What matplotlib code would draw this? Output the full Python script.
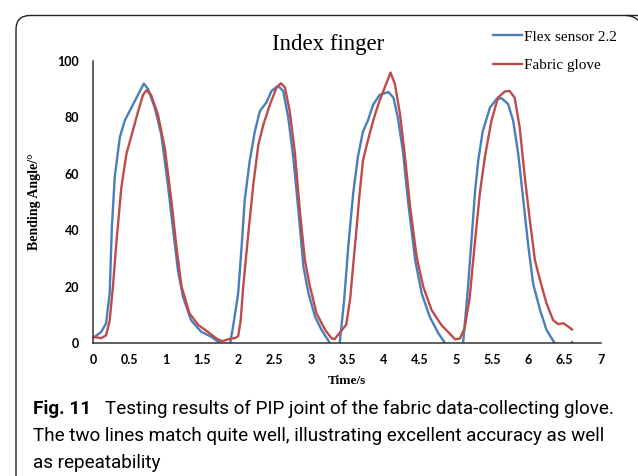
import matplotlib
matplotlib.use("Agg")
import matplotlib.pyplot as plt
from matplotlib import font_manager
from matplotlib.patches import FancyBboxPatch, Arc
from matplotlib.ticker import MultipleLocator, FormatStrFormatter

# flex sensor 2.2 (blue)
flex_time = [0, 0.115, 0.18, 0.23, 0.26, 0.30, 0.37, 0.44, 0.53, 0.62, 0.70, 0.76,
             0.85, 0.94, 1.03, 1.10, 1.17, 1.24, 1.35, 1.49, 1.63, 1.745, 1.82, 1.89,
             1.93, 2.0, 2.05, 2.09, 2.16, 2.23, 2.30, 2.39, 2.46, 2.55, 2.62, 2.69,
             2.76, 2.83, 2.90, 2.97, 3.06, 3.15, 3.24, 3.32, 3.40, 3.46, 3.52, 3.585,
             3.65, 3.72, 3.79, 3.86, 3.95, 4.07, 4.14, 4.20, 4.27, 4.34, 4.44, 4.53,
             4.64, 4.76, 4.85, 4.97, 5.10, 5.16, 5.22, 5.265, 5.31, 5.37, 5.47, 5.56,
             5.63, 5.72, 5.79, 5.86, 5.93, 6.00, 6.065, 6.16, 6.25, 6.36, 6.47, 6.60]
flex_angle = [1.7, 4, 7, 17.6, 41, 59, 73, 79, 83.5, 88, 92, 90,
              83.5, 74, 56.5, 41, 25.8, 16.4, 8.1, 4, 2.2, 0.1, -3, 0,
              5.8, 17.5, 35, 50.5, 64.7, 75, 82.3, 85.3, 89.4, 91.2, 89.4, 80,
              65.8, 47, 27, 17.5, 9.3, 4.6, 1, -3, 0, 15, 35, 53,
              66, 75, 79, 84.5, 88, 89, 87, 80, 68.2, 50.5, 29.3, 17.5,
              9.3, 3.4, 0, -4, 0, 17.5, 38, 54, 65, 75, 83.5, 86.5,
              86.8, 84.7, 78.8, 67, 50.5, 34, 21, 11.7, 4.6, 0, -4, 0.3]

# fabric glove (red)
glove_time = [0, 0.11, 0.18, 0.23, 0.275, 0.32, 0.39, 0.46, 0.53, 0.62, 0.69, 0.735,
              0.80, 0.895, 0.99, 1.08, 1.15, 1.22, 1.33, 1.45, 1.58, 1.70, 1.78, 1.86,
              1.96, 2.00, 2.035, 2.07, 2.14, 2.21, 2.28, 2.35, 2.44, 2.53, 2.59, 2.645,
              2.71, 2.78, 2.85, 2.92, 2.99, 3.08, 3.20, 3.29, 3.33, 3.43, 3.49, 3.545,
              3.59, 3.63, 3.67, 3.72, 3.77, 3.82, 3.88, 3.95, 4.02, 4.10, 4.16, 4.23,
              4.30, 4.37, 4.46, 4.55, 4.665, 4.80, 4.89, 4.99, 5.055, 5.12, 5.19, 5.26,
              5.33, 5.40, 5.49, 5.58, 5.675, 5.74, 5.81, 5.88, 5.95, 6.02, 6.09, 6.16,
              6.25, 6.34, 6.41, 6.48, 6.55, 6.60]
glove_angle = [2.2, 1.7, 2.7, 8, 20, 35, 55, 67, 73.5, 82, 88, 89.6,
               88, 81, 69, 50.5, 34, 20, 10.5, 6.4, 4, 1.6, 0.6, 1.3,
               1.8, 2.4, 8, 20, 38.8, 56.4, 70.6, 77.6, 84.7, 90.6, 92.1, 90.6,
               82.3, 68, 47, 29.3, 20, 10.5, 4.6, 1.6, 1.4, 4.6, 6.5, 16,
               29, 40, 52, 64.7, 70, 75, 80.5, 86, 90.6, 95.9, 91.8, 81.2,
               65.8, 48.2, 30.5, 20, 11.7, 6.4, 4, 1.3, 1.6, 5.2, 16, 35,
               53, 66, 78.8, 87, 89.2, 89.4, 87, 76.4, 58.8, 43.5, 29.3, 22.3,
               14, 8.1, 6.7, 7, 5.8, 4.8]

series_labels = ["Flex sensor 2.2", "Fabric glove"]
caption_bold = "Fig. 11"
caption_lines = ["Testing results of PIP joint of the fabric data-collecting glove.",
                 "The two lines match quite well, illustrating excellent accuracy as well",
                 "as repeatability"]

W, H = 638, 476
fig = plt.figure(figsize=(W / 100, H / 100), dpi=100)
fig.patch.set_facecolor("white")

# frame: left side + rounded top-left corner; box runs far off to the right
frame = FancyBboxPatch((0.16, -1.0), 8.0, 5.605,
                       boxstyle="round,pad=0,rounding_size=0.14",
                       transform=fig.dpi_scale_trans, fill=False,
                       edgecolor="#222222", linewidth=1.0, clip_on=False)
fig.patches.append(frame)
# top-right corner that bends down at the picture edge
corner = Arc((6.26, 4.605 - 0.18), 0.36, 0.36, theta1=0, theta2=90,
             transform=fig.dpi_scale_trans, edgecolor="#222222", linewidth=1.0)
fig.patches.append(corner)
# hide the straight top edge beyond the corner
fig.patches.append(FancyBboxPatch((6.262, 4.56), 2.0, 0.1, boxstyle="square,pad=0",
                                  transform=fig.dpi_scale_trans, facecolor="white",
                                  edgecolor="none", zorder=0.5))

ax = fig.add_axes([93 / W, 1 - 343 / H, 508 / W, 282 / H])
ax.plot(flex_time, flex_angle, color="#4A7EBB", lw=1.7, solid_joinstyle="round",
        label=series_labels[0])
ax.plot(glove_time, glove_angle, color="#BE4B48", lw=1.7, solid_joinstyle="round",
        label=series_labels[1])

ax.set_xlim(0, 7)
ax.set_ylim(0, 100)
ax.xaxis.set_major_locator(MultipleLocator(0.5))
ax.xaxis.set_major_formatter(FormatStrFormatter("%g"))
ax.yaxis.set_major_locator(MultipleLocator(20))

for s in ["top", "right"]:
    ax.spines[s].set_visible(False)
for s in ["left", "bottom"]:
    ax.spines[s].set_color("#333333")
    ax.spines[s].set_linewidth(1.1)

ax.tick_params(axis="x", length=0, pad=8)
ax.tick_params(axis="y", length=0, pad=10)
for lab in ax.get_xticklabels() + ax.get_yticklabels():
    lab.set_fontfamily("Lato")
    lab.set_fontweight("bold")
    lab.set_fontsize(9)

ax.set_xlabel("Time/s", family="Liberation Serif", fontweight="bold", fontsize=9.5)
ax.set_ylabel("Bending Angle/°", family="Liberation Serif", fontweight="bold", fontsize=10)
ax.xaxis.set_label_coords(0.5, -0.112)
ax.yaxis.set_label_coords(-0.102, 0.5)

fig.text(328 / W, 1 - 50 / H, "Index finger", family="Liberation Serif",
         fontsize=16.5, ha="center", va="baseline")

fig.legend(loc="upper left", bbox_to_anchor=(493 / W, 1 - 30 / H), frameon=False,
           prop={"family": "Liberation Serif", "size": 11}, handlelength=1.9,
           handletextpad=0.15, borderpad=0, borderaxespad=0, labelspacing=0.95)

# caption
names = {f.name for f in font_manager.fontManager.ttflist}
cap_family = "Liberation Sans Narrow" if "Liberation Sans Narrow" in names else "Roboto"
t_bold = fig.text(33 / W, 1 - 414 / H, caption_bold, family=cap_family,
                  fontweight="bold", fontsize=14, va="baseline")
t1 = fig.text(106 / W, 1 - 414 / H, caption_lines[0], family=cap_family,
              fontsize=14, va="baseline")
t2 = fig.text(33 / W, 1 - 441 / H, caption_lines[1], family=cap_family,
              fontsize=14, va="baseline")
t3 = fig.text(33 / W, 1 - 467.5 / H, caption_lines[2], family=cap_family,
              fontsize=14, va="baseline")

fig.canvas.draw()
size = 14 * 578 / t2.get_window_extent().width
for t in (t_bold, t1, t2, t3):
    t.set_fontsize(size)
fig.canvas.draw()
t1.set_x((t_bold.get_window_extent().x1 + 14) / W)

fig.savefig("out.png", dpi=100)
